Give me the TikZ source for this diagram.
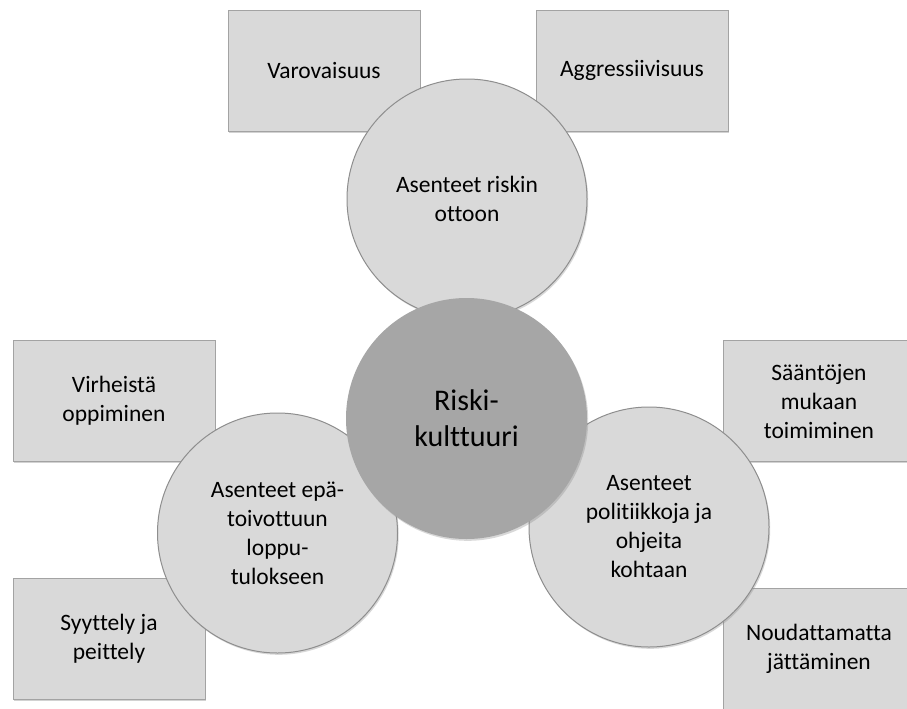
\documentclass[tikz,border=0pt]{standalone}
\usepackage{fontspec}
\setmainfont{Carlito}[Ligatures={NoCommon}]
\usetikzlibrary{shadows}
\definecolor{boxfill}{HTML}{D9D9D9}
\definecolor{boxline}{HTML}{A3A3A3}
\definecolor{ringline}{HTML}{8E8E8E}
\definecolor{corefill}{HTML}{A6A6A6}
\tikzset{
  itembox/.style={rectangle, draw=boxline, line width=0.9pt, fill=boxfill,
    minimum width=192pt, minimum height=121pt, inner sep=0pt, align=center,
    font=\fontsize{23.5}{29}\selectfont,
    drop shadow={shadow xshift=1.2pt, shadow yshift=-1.6pt, opacity=0.35}},
  ring/.style={circle, draw=ringline, line width=1pt, fill=boxfill,
    minimum size=240pt, inner sep=0pt, align=center,
    font=\fontsize{23.5}{29}\selectfont,
    drop shadow={shadow xshift=1.2pt, shadow yshift=-1.8pt, opacity=0.3}},
  core/.style={circle, fill=corefill, minimum size=241pt, inner sep=0pt,
    align=center, font=\fontsize{30}{36}\selectfont,
    drop shadow={shadow xshift=1.2pt, shadow yshift=-1.8pt, opacity=0.3}}
}
\begin{document}
\begin{tikzpicture}[x=1pt,y=-1pt]
  \clip (0,0) rectangle (907,709);
  \fill[white] (0,0) rectangle (907,709);

  % outer boxes
  \node[itembox] (varo) at (324,70.5) {Varovaisuus};
  \node[itembox] (aggr) at (632,70.5) {Aggressiivisuus};
  \node[itembox, minimum width=202pt] (virhe) at (114,401) {Virheistä\\oppiminen};
  \node[itembox] (syyt) at (109,639) {Syyttely ja\\peittely};
  \node[itembox] (saanto) at (819,401) {Sääntöjen\\mukaan\\toimiminen};
  \node[itembox] (noud) at (819,649) {Noudattamatta\\jättäminen};

  % attitude circles
  \node[ring] (riskotto) at (467,199) {Asenteet riskin\\ottoon};
  \node[ring] (lopputulos) at (277.5,533) {Asenteet epä-\\toivottuun\\loppu-\\tulokseen};
  \node[ring] (politiikka) at (649,527) {Asenteet\\politiikkoja ja\\ohjeita\\kohtaan};

  % central circle
  \node[core] (kulttuuri) at (466.5,418.5) {Riski-\\kulttuuri};
\end{tikzpicture}
\end{document}
